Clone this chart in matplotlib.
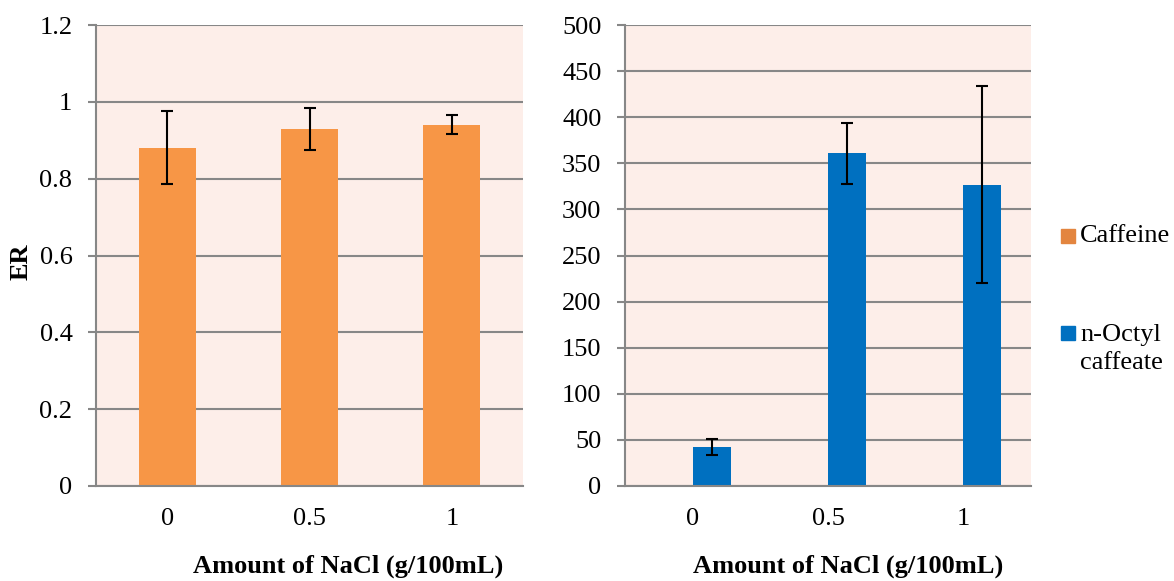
import matplotlib
matplotlib.use("Agg")
import matplotlib.pyplot as plt
from matplotlib.patches import Rectangle
import numpy as np

# NaCl levels (g/100mL)
categories = ["0", "0.5", "1"]

# Enrichment ratio of caffeine and its error
caffeine_er = [0.88, 0.93, 0.94]
caffeine_err = [0.095, 0.055, 0.025]

# Enrichment ratio of n-octyl caffeate and its error
octyl_er = [42, 361, 327]
octyl_err = [8.5, 33, 107]

series_names = ["Caffeine", "n-Octyl\ncaffeate"]

ORANGE = "#F79646"
BLUE = "#0070C0"
BG = "#FDEEE9"
GRID = "#878787"

plt.rcParams["font.family"] = ["Liberation Serif", "DejaVu Serif"]
FS = 19

fig = plt.figure(figsize=(11.74, 5.81), dpi=100)
W, H = 1174, 581


def px_axes(x0, y0, x1, y1):
    return fig.add_axes([x0 / W, 1 - y1 / H, (x1 - x0) / W, (y1 - y0) / H])


def style(ax, ymax, step):
    ax.set_facecolor(BG)
    ax.set_xlim(-0.5, 2.5)
    ax.set_ylim(0, ymax)
    ax.set_yticks(np.arange(0, ymax + step / 2, step))
    ax.yaxis.grid(True, color=GRID, linewidth=1.5)
    ax.set_axisbelow(True)
    for s in ("top", "right"):
        ax.spines[s].set_visible(False)
    for s in ("left", "bottom"):
        ax.spines[s].set_color(GRID)
        ax.spines[s].set_linewidth(1.5)
    ax.tick_params(axis="y", length=6, width=1.5, color=GRID, pad=11,
                   labelsize=FS)
    ax.tick_params(axis="x", length=0, pad=16, labelsize=FS)
    x = np.arange(len(categories))
    ax.set_xticks(x)
    ax.set_xticklabels(categories)
    return x


# Left panel: caffeine
ax1 = px_axes(96, 25, 523, 486)
x = style(ax1, 1.2, 0.2)
ax1.set_yticklabels(["0", "0.2", "0.4", "0.6", "0.8", "1", "1.2"])
ax1.bar(x, caffeine_er, width=0.4, color=ORANGE, zorder=2)
ax1.errorbar(x, caffeine_er, yerr=caffeine_err, fmt="none", ecolor="black",
             elinewidth=1.5, capsize=4.5, capthick=1.5, zorder=3)
ax1.set_xlabel("Amount of NaCl (g/100mL)", fontsize=FS, fontweight="bold")
ax1.xaxis.set_label_coords(0.59, -0.148)

# Right panel: n-octyl caffeate (second series of the cluster)
ax2 = px_axes(625, 25, 1031, 486)
x = style(ax2, 500, 50)
off = 0.14
ax2.bar(x + off, octyl_er, width=0.28, color=BLUE, zorder=2)
ax2.errorbar(x + off, octyl_er, yerr=octyl_err, fmt="none", ecolor="black",
             elinewidth=1.5, capsize=4.5, capthick=1.5, zorder=3)
ax2.set_xlabel("Amount of NaCl (g/100mL)", fontsize=FS, fontweight="bold")
ax2.xaxis.set_label_coords(0.549, -0.148)

# Shared y-axis title
fig.text(21 / W, 1 - 262 / H, "ER", rotation=90, fontsize=FS,
         fontweight="bold", ha="center", va="center")

# Legend: (patch centre y, text centre y, colour, label)
legend_rows = [(236, 236, "#E3853F", series_names[0]),
               (333, 349, BLUE, series_names[1])]
for yp, yt, col, name in legend_rows:
    fig.add_artist(Rectangle((1061 / W, 1 - (yp + 7) / H), 14 / W, 14 / H,
                             transform=fig.transFigure, color=col))
    fig.text(1080 / W, 1 - yt / H, name, fontsize=FS, ha="left",
             va="center", linespacing=1.3)

fig.savefig("out.png", dpi=100)
